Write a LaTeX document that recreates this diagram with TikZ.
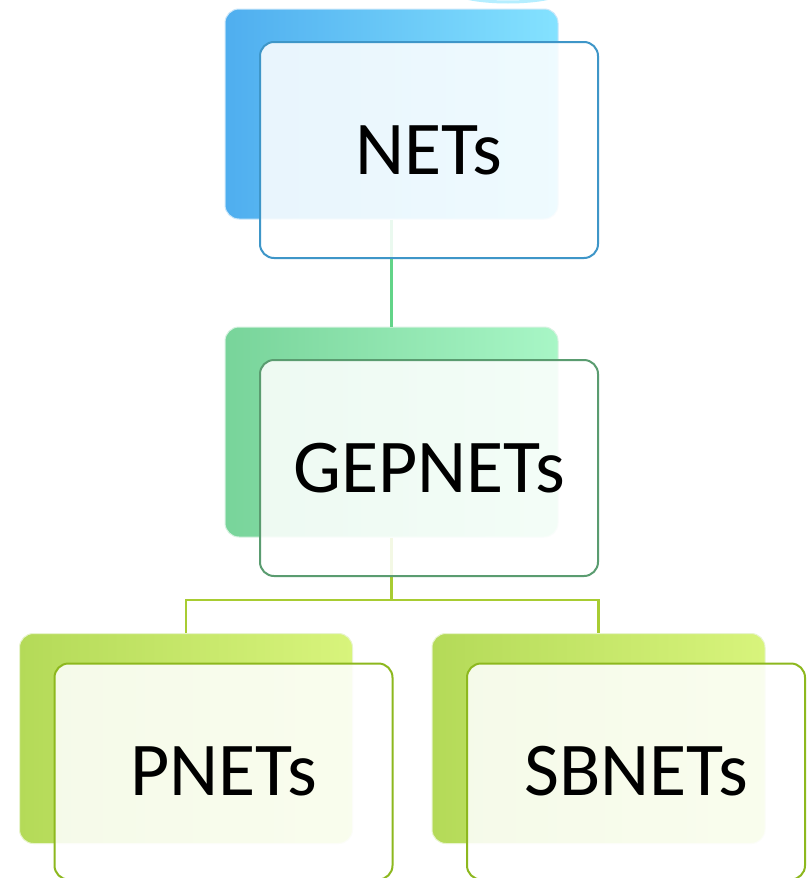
\documentclass[tikz,border=0pt]{standalone}
\usepackage{fontspec}
\setmainfont{Carlito}
\begin{document}
\begin{tikzpicture}[x=1pt,y=-1pt,
 backbox/.style={rounded corners=14pt, minimum width=333pt, minimum height=210pt, inner sep=0pt},
 frontbox/.style={draw, line width=2pt, rounded corners=14pt, minimum width=338pt, minimum height=216pt, inner sep=0pt, fill=white, fill opacity=0.87, text opacity=1, font=\fontsize{76}{90}\selectfont},
 bluelink/.style={draw=netline, line width=2.6pt},
 limelink/.style={draw=limeline, line width=2.6pt},
]
\definecolor{bluedark}{HTML}{4FAEEF}
\definecolor{bluelight}{HTML}{84E2FF}
\definecolor{blueborder}{HTML}{3E96C8}
\definecolor{greendark}{HTML}{78D49A}
\definecolor{greenlight}{HTML}{A8F6C6}
\definecolor{greenborder}{HTML}{5A9C70}
\definecolor{limedark}{HTML}{B4DA58}
\definecolor{limelight}{HTML}{D8F47C}
\definecolor{limeborder}{HTML}{8DB81E}
\definecolor{netline}{HTML}{62D488}
\definecolor{limeline}{HTML}{A8CC32}
\useasboundingbox (0,0) rectangle (807,878);
\fill[white] (0,0) rectangle (807,878);
% clipped arc at top
\draw[draw=bluelight!60, line width=3pt] (508,-10) ellipse [x radius=56, y radius=12];
% back boxes
\node[backbox, left color=bluedark, right color=bluelight, draw=bluedark!30, line width=1pt] (netsback) at (391.5,114) {};
\node[backbox, left color=greendark, right color=greenlight, draw=greendark!30, line width=1pt] (gepback) at (391.5,432) {};
\node[backbox, left color=limedark, right color=limelight, draw=limedark!30, line width=1pt] (pback) at (186,738.5) {};
\node[backbox, left color=limedark, right color=limelight, draw=limedark!30, line width=1pt] (sbback) at (598.5,738.5) {};
% connectors
\draw[bluelink] (netsback.south) -- (gepback.north);
\coordinate (bus) at (391.5,600);
\draw[limelink] (gepback.south) -- (bus);
\draw[limelink] (pback.north) |- (bus) -| (sbback.north);
% front boxes
\node[frontbox, draw=blueborder] (nets) at (429,150) {NETs};
\node[frontbox, draw=greenborder] (gep) at (429,468) {GEPNETs};
\node[frontbox, draw=limeborder] (pnets) at (223.5,771.5) {PNETs};
\node[frontbox, draw=limeborder] (sbnets) at (636,771.5) {SBNETs};
\end{tikzpicture}
\end{document}
